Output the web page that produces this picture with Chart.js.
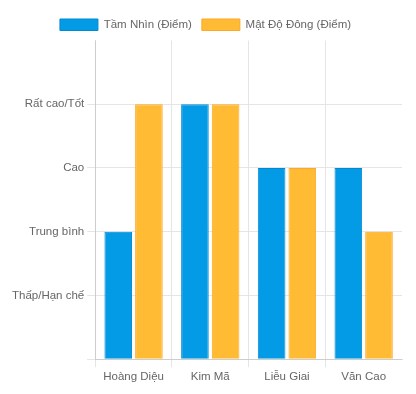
<!DOCTYPE html>
<html>
<head>
<meta charset="utf-8">
<script src="https://cdn.jsdelivr.net/npm/chart.js@4"></script>
<style>
  html, body { margin: 0; padding: 0; background: #fff; }
  #wrap { width: 416px; height: 394px; }
</style>
</head>
<body>
<div id="wrap"><canvas id="chart"></canvas></div>
<script>
const districts = ["Hoàng Diệu", "Kim Mã", "Liễu Giai", "Văn Cao"];
const visionScores = [2, 4, 3, 3];
const densityScores = [4, 4, 3, 2];
const levelLabels = ["", "Thấp/Hạn chế", "Trung bình", "Cao", "Rất cao/Tốt"];

Chart.defaults.font.family = "'Liberation Sans', Arial, sans-serif";
Chart.defaults.font.size = 11.5;
Chart.defaults.color = "#666";

const ctx = document.getElementById("chart").getContext("2d");
new Chart(ctx, {
  type: "bar",
  data: {
    labels: districts,
    datasets: [
      {
        label: "Tầm Nhìn (Điểm)",
        data: visionScores,
        backgroundColor: "#039BE5",
        borderColor: "#0288D1",
        borderWidth: 1,
      },
      {
        label: "Mật Độ Đông (Điểm)",
        data: densityScores,
        backgroundColor: "#FFBB33",
        borderColor: "#FFA726",
        borderWidth: 1,
      },
    ],
  },
  options: {
    responsive: true,
    maintainAspectRatio: false,
    animation: false,
    layout: { padding: { left: 9, right: 14, top: 9, bottom: 7 } },
    plugins: {
      legend: { position: "top", labels: { boxWidth: 38 } },
      tooltip: { enabled: false },
    },
    scales: {
      x: {
        grid: {
          // hide the closing line at the right edge
          color: (c) => (c.index == null || c.index >= districts.length ? "rgba(0,0,0,0)" : "#e5e5e5"),
        },
      },
      y: {
        min: 0,
        max: 5,
        ticks: {
          stepSize: 1,
          callback: (v) => (v === 5 ? null : levelLabels[v]),
        },
        grid: { color: "#e5e5e5" },
      },
    },
  },
});
</script>
</body>
</html>
